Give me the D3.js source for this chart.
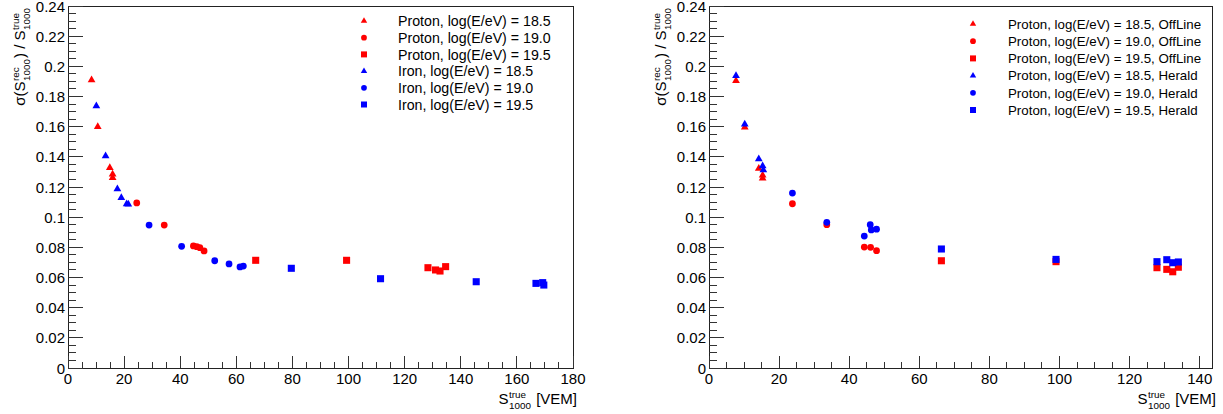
<!DOCTYPE html>
<html><head><meta charset="utf-8">
<script src="https://cdn.jsdelivr.net/npm/d3@7"></script>
<style>body{margin:0;background:#fff}svg{display:block}text{font-family:"Liberation Sans",Arial,Helvetica,sans-serif;fill:#000;white-space:pre}</style>
</head><body><svg id="c" width="1223" height="414"></svg>
<script>
// ---------- data ----------
const xTicksLeft = [0,20,40,60,80,100,120,140,160,180];
const xTicksRight = [0,20,40,60,80,100,120,140];
const yTicks = [0,0.02,0.04,0.06,0.08,0.1,0.12,0.14,0.16,0.18,0.2,0.22,0.24];

// left panel: proton / iron
const pr185X = [8.4,10.6,14.9,15.9,15.9];
const pr185Y = [0.191,0.160,0.1328,0.1284,0.1262];
const pr190X = [24.5,34.3,44.7,45.9,47.0,48.5];
const pr190Y = [0.1094,0.0948,0.0809,0.0804,0.0798,0.0776];
const pr195X = [66.9,99.3,128.3,131.0,132.6,134.6];
const pr195Y = [0.0714,0.0714,0.0665,0.0650,0.0643,0.0672];
const fe185X = [10.1,13.4,17.6,19.0,20.9,21.5];
const fe185Y = [0.1737,0.1406,0.1187,0.1129,0.1087,0.1085];
const fe190X = [28.9,40.5,52.3,57.4,61.3,62.5];
const fe190Y = [0.0948,0.0807,0.0711,0.0690,0.0670,0.0676];
const fe195X = [79.6,111.4,145.5,166.8,169.2,169.6];
const fe195Y = [0.0661,0.0592,0.0572,0.0561,0.0566,0.0550];

// right panel: OffLine / Herald
const off185X = [7.7,10.2,14.2,15.3,15.3];
const off185Y = [0.1905,0.1596,0.1322,0.1278,0.1258];
const off190X = [23.8,33.6,44.3,46.1,47.8];
const off190Y = [0.1089,0.0950,0.0802,0.0800,0.0778];
const off195X = [66.3,99.0,127.8,130.6,132.3,133.9];
const off195Y = [0.0711,0.0705,0.0665,0.0654,0.0638,0.0668];
const her185X = [7.7,10.2,14.2,15.3,15.5];
const her185Y = [0.1938,0.1616,0.1386,0.1339,0.1313];
const her190X = [23.8,33.6,44.3,46.0,46.3,47.8];
const her190Y = [0.1160,0.0966,0.0875,0.0950,0.0915,0.0920];
const her195X = [66.3,99.0,127.8,130.6,132.3,133.9];
const her195Y = [0.0789,0.0720,0.0705,0.0718,0.0698,0.0703];

const leftLabels = ["Proton, log(E/eV) = 18.5","Proton, log(E/eV) = 19.0","Proton, log(E/eV) = 19.5",
  "Iron, log(E/eV) = 18.5","Iron, log(E/eV) = 19.0","Iron, log(E/eV) = 19.5"];
const rightLabels = ["Proton, log(E/eV) = 18.5, OffLine","Proton, log(E/eV) = 19.0, OffLine","Proton, log(E/eV) = 19.5, OffLine",
  "Proton, log(E/eV) = 18.5, Herald","Proton, log(E/eV) = 19.0, Herald","Proton, log(E/eV) = 19.5, Herald"];

// ---------- drawing ----------
const svg = d3.select("#c");
const RED = "#ff0000", BLUE = "#0000ff";
const shapes = {tri: d3.symbolTriangle, cir: d3.symbolCircle, sq: d3.symbolSquare};
const sizes = {tri: 26, cir: 36, sq: 50};
const lsizes = {tri: 18, cir: 26, sq: 36};
const Y0 = 368, Y1 = 6;
const y = d3.scaleLinear().domain([0,0.24]).range([Y0,Y1]);

function fmt(v){ return String(+v.toFixed(3)); }

function richText(g, parts, x0, baseY, size){
  let x = x0;
  parts.forEach(p=>{
    if (p.t !== undefined){
      const t = g.append("text").attr("x",x).attr("y",baseY).attr("font-size",size).text(p.t);
      x += t.node().getComputedTextLength();
    } else {
      const s = size*0.66;
      const a = g.append("text").attr("x",x+0.5).attr("y",baseY-size*0.42).attr("font-size",s).text(p.sup);
      const b = g.append("text").attr("x",x+0.5).attr("y",baseY+size*0.32).attr("font-size",s).text(p.sub);
      x += Math.max(a.node().getComputedTextLength(), b.node().getComputedTextLength()) + 1.5;
    }
  });
  return x - x0;
}

function panel(cfg){
  const x = d3.scaleLinear().domain([0,cfg.xmax]).range([cfg.x0,cfg.x1]);
  const g = svg.append("g");
  g.append("rect").attr("x",cfg.x0).attr("y",Y1).attr("width",cfg.x1-cfg.x0).attr("height",Y0-Y1)
    .attr("fill","none").attr("stroke","#222").attr("stroke-width",1).attr("shape-rendering","crispEdges");
  const xMinor = d3.range(0, cfg.xmax+0.01, 5);
  g.selectAll(".xm").data(xMinor).join("line")
    .attr("x1",d=>x(d)).attr("x2",d=>x(d)).attr("y1",Y0).attr("y2",d=> d%20===0 ? Y0-12 : Y0-6)
    .attr("stroke","#333").attr("shape-rendering","crispEdges");
  g.selectAll(".xl").data(cfg.xticks).join("text")
    .attr("x",d=>x(d)).attr("y",384).attr("text-anchor","middle").attr("font-size",15).text(d=>d);
  const yMinor = d3.range(0, 48.5, 1).map(i=>i*0.005);
  g.selectAll(".ym").data(yMinor).join("line")
    .attr("y1",d=>y(d)).attr("y2",d=>y(d)).attr("x1",cfg.x0).attr("x2",(d,i)=> i%4===0 ? cfg.x0+15 : cfg.x0+7.5)
    .attr("stroke","#333").attr("shape-rendering","crispEdges");
  g.selectAll(".yl").data(yTicks).join("text")
    .attr("x",cfg.x0-3).attr("y",d=>y(d)+5.5).attr("text-anchor","end").attr("font-size",15).text(fmt);
  const yt = g.append("g");
  const inner = yt.append("g");
  const w = richText(inner, [{t:"σ(S"},{sup:"rec",sub:"1000"},{t:") / S"},{sup:"true",sub:"1000"}], 0, 0, 15);
  yt.attr("transform",`translate(${cfg.x0-43},${Y1+1}) rotate(-90) translate(${-w},0)`);
  const xt = g.append("g");
  const xi = xt.append("g");
  const w2 = richText(xi, [{t:"S"},{sup:"true",sub:"1000"},{t:" [VEM]"}], 0, 0, 15);
  xt.attr("transform",`translate(${cfg.x1+4-w2},404)`);
  cfg.series.forEach(s=>{
    const pts = s.xs.map((v,i)=>[v,s.ys[i]]);
    g.selectAll(null).data(pts).join("path")
      .attr("d", d3.symbol().type(shapes[s.shape]).size(sizes[s.shape]))
      .attr("transform",d=>`translate(${x(d[0])},${y(d[1])})`)
      .attr("fill",s.color);
  });
  cfg.series.forEach((s,i)=>{
    const ly = cfg.ly0 + i*cfg.ldy;
    g.append("path").attr("d", d3.symbol().type(shapes[s.shape]).size(lsizes[s.shape]))
      .attr("transform",`translate(${cfg.lmx},${ly})`).attr("fill",s.color);
    g.append("text").attr("x",cfg.ltx).attr("y",ly+cfg.lfs*0.36).attr("font-size",cfg.lfs).text(cfg.labels[i]);
  });
}

panel({x0:68, x1:573, xmax:180, xticks:xTicksLeft, labels:leftLabels,
  lmx:364, ltx:398, ly0:21, ldy:16.7, lfs:14.2,
  series:[
    {xs:pr185X, ys:pr185Y, shape:"tri", color:RED},
    {xs:pr190X, ys:pr190Y, shape:"cir", color:RED},
    {xs:pr195X, ys:pr195Y, shape:"sq", color:RED},
    {xs:fe185X, ys:fe185Y, shape:"tri", color:BLUE},
    {xs:fe190X, ys:fe190Y, shape:"cir", color:BLUE},
    {xs:fe195X, ys:fe195Y, shape:"sq", color:BLUE}
  ]});
panel({x0:709, x1:1212, xmax:143.5, xticks:xTicksRight, labels:rightLabels,
  lmx:973, ltx:1008, ly0:24, ldy:17.2, lfs:13.3,
  series:[
    {xs:off185X, ys:off185Y, shape:"tri", color:RED},
    {xs:off190X, ys:off190Y, shape:"cir", color:RED},
    {xs:off195X, ys:off195Y, shape:"sq", color:RED},
    {xs:her185X, ys:her185Y, shape:"tri", color:BLUE},
    {xs:her190X, ys:her190Y, shape:"cir", color:BLUE},
    {xs:her195X, ys:her195Y, shape:"sq", color:BLUE}
  ]});
</script></body></html>
